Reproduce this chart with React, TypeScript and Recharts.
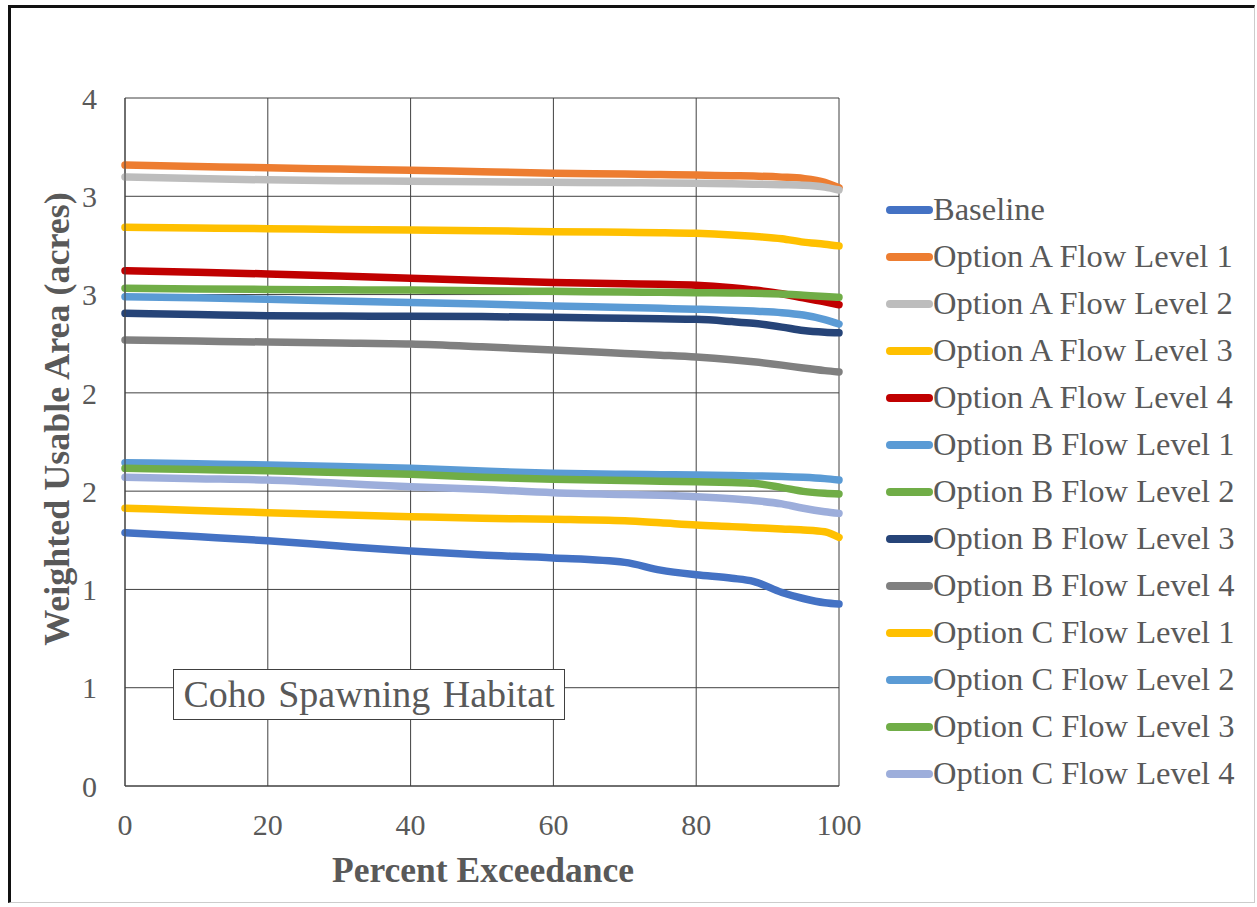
import React from 'react';
import { LineChart, Line, XAxis, YAxis, CartesianGrid, Legend } from 'recharts';

const percentExceedance = [0, 10, 20, 30, 40, 50, 60, 70, 75, 80, 85, 88, 92, 95, 98, 100];

const baseline = [1.473, 1.450, 1.426, 1.395, 1.366, 1.343, 1.326, 1.300, 1.255, 1.228, 1.208, 1.190, 1.125, 1.090, 1.065, 1.058];
const optA1 = [3.610, 3.602, 3.594, 3.587, 3.580, 3.571, 3.563, 3.558, 3.555, 3.552, 3.548, 3.546, 3.540, 3.532, 3.510, 3.478];
const optA2 = [3.541, 3.532, 3.524, 3.519, 3.516, 3.513, 3.510, 3.507, 3.506, 3.504, 3.501, 3.499, 3.496, 3.493, 3.482, 3.465];
const optA3 = [3.248, 3.244, 3.240, 3.236, 3.232, 3.228, 3.223, 3.219, 3.217, 3.213, 3.204, 3.196, 3.182, 3.162, 3.150, 3.140];
const optA4 = [2.996, 2.987, 2.977, 2.965, 2.952, 2.939, 2.927, 2.920, 2.917, 2.912, 2.897, 2.884, 2.862, 2.838, 2.815, 2.798];
const optB1 = [2.845, 2.838, 2.830, 2.820, 2.811, 2.802, 2.791, 2.782, 2.777, 2.772, 2.766, 2.761, 2.752, 2.738, 2.712, 2.686];
const optB2 = [2.894, 2.890, 2.887, 2.885, 2.883, 2.880, 2.876, 2.872, 2.870, 2.868, 2.866, 2.865, 2.860, 2.853, 2.846, 2.841];
const optB3 = [2.748, 2.741, 2.734, 2.732, 2.731, 2.729, 2.725, 2.719, 2.716, 2.713, 2.700, 2.690, 2.668, 2.648, 2.638, 2.635];
const optB4 = [2.593, 2.587, 2.581, 2.576, 2.570, 2.554, 2.535, 2.515, 2.505, 2.494, 2.478, 2.466, 2.447, 2.430, 2.415, 2.407];
const optC1 = [1.615, 1.602, 1.589, 1.577, 1.566, 1.556, 1.551, 1.542, 1.530, 1.517, 1.508, 1.502, 1.494, 1.489, 1.478, 1.446];
const optC2 = [1.880, 1.873, 1.866, 1.857, 1.847, 1.831, 1.818, 1.812, 1.810, 1.808, 1.805, 1.803, 1.800, 1.795, 1.787, 1.779];
const optC3 = [1.847, 1.840, 1.833, 1.823, 1.812, 1.795, 1.783, 1.776, 1.772, 1.769, 1.764, 1.760, 1.735, 1.713, 1.702, 1.698];
const optC4 = [1.795, 1.787, 1.779, 1.760, 1.740, 1.725, 1.705, 1.695, 1.690, 1.682, 1.670, 1.660, 1.640, 1.615, 1.595, 1.585];

const xTicks = [0, 20, 40, 60, 80, 100];
const yTickValues = [0, 4 / 7, 8 / 7, 12 / 7, 16 / 7, 20 / 7, 24 / 7, 4];
const yTickLabels = ['0', '1', '1', '2', '2', '3', '3', '4'];

const seriesNames = [
  'Baseline',
  'Option A Flow Level 1',
  'Option A Flow Level 2',
  'Option A Flow Level 3',
  'Option A Flow Level 4',
  'Option B Flow Level 1',
  'Option B Flow Level 2',
  'Option B Flow Level 3',
  'Option B Flow Level 4',
  'Option C Flow Level 1',
  'Option C Flow Level 2',
  'Option C Flow Level 3',
  'Option C Flow Level 4',
];
const seriesValues = [baseline, optA1, optA2, optA3, optA4, optB1, optB2, optB3, optB4, optC1, optC2, optC3, optC4];
const seriesColors = [
  '#4472C4', '#ED7D31', '#BDBDBD', '#FFC000', '#C00000',
  '#5B9BD5', '#70AD47', '#264478', '#808080',
  '#FFC000', '#5B9BD5', '#70AD47', '#9DAEDB',
];

const keys = seriesNames.map((_, i) => 's' + i);

const data = percentExceedance.map((p, i) => {
  const row: Record<string, number> = { p };
  seriesValues.forEach((arr, k) => {
    row[keys[k]] = arr[i];
  });
  return row;
});

const FONT = '"Liberation Serif", "Times New Roman", serif';
const TEXT_GRAY = '#595959';

const CustomLegend = () => (
  <div style={{ fontFamily: FONT }}>
    {seriesNames.map((name, i) => (
      <div key={name} style={{ display: 'flex', alignItems: 'center', height: 47 }}>
        <svg width={48} height={12} style={{ display: 'block' }}>
          <line x1={5} y1={6} x2={44} y2={6} stroke={seriesColors[i]} strokeWidth={8} strokeLinecap="round" />
        </svg>
        <span style={{ fontSize: 32.5, color: TEXT_GRAY, lineHeight: 1, whiteSpace: 'nowrap' }}>{name}</span>
      </div>
    ))}
  </div>
);

const YTitle = () => (
  <text
    x={69}
    y={419}
    transform="rotate(-90, 69, 419)"
    textAnchor="middle"
    fontFamily={FONT}
    fontWeight="bold"
    fontSize={36}
    fill={TEXT_GRAY}
  >
    Weighted Usable Area (acres)
  </text>
);

const XTitle = () => (
  <text
    x={483}
    y={882}
    textAnchor="middle"
    fontFamily={FONT}
    fontWeight="bold"
    fontSize={35.5}
    fill={TEXT_GRAY}
  >
    Percent Exceedance
  </text>
);

export default function App() {
  return (
    <div style={{ position: 'absolute', left: 0, top: 0, width: 1257, height: 907, background: '#fff' }}>
      <div
        style={{
          position: 'absolute',
          left: 8,
          top: 5,
          width: 1247,
          height: 898,
          boxSizing: 'border-box',
          borderTop: '3px solid #111',
          borderLeft: '3px solid #111',
          borderRight: '1px solid #ccc',
          borderBottom: '1px solid #ccc',
        }}
      />
      <div style={{ position: 'absolute', left: 0, top: 0 }}>
        <LineChart width={1257} height={907} data={data} margin={{ top: 98, right: 418, bottom: 0, left: 0 }}>
          <CartesianGrid stroke="#404040" strokeWidth={1} />
          <XAxis
            dataKey="p"
            type="number"
            domain={[0, 100]}
            ticks={xTicks}
            height={121}
            tickLine={false}
            tickSize={6}
            tickMargin={22}
            axisLine={{ stroke: '#404040' }}
            tick={{ fill: TEXT_GRAY, fontSize: 30, fontFamily: FONT }}
            label={<XTitle />}
          />
          <YAxis
            type="number"
            domain={[0, 4]}
            ticks={yTickValues}
            width={125}
            tickLine={false}
            tickSize={6}
            tickMargin={22}
            axisLine={{ stroke: '#404040' }}
            tick={{ fill: TEXT_GRAY, fontSize: 30, fontFamily: FONT }}
            tickFormatter={(v: number) => {
              const idx = yTickValues.findIndex((t) => Math.abs(t - v) < 1e-6);
              return idx >= 0 ? yTickLabels[idx] : '';
            }}
            label={<YTitle />}
            interval={0}
          />
          <Legend
            layout="horizontal"
            align="center"
            verticalAlign="middle"
            content={<CustomLegend />}
            wrapperStyle={{ position: 'absolute', left: 885, top: 186, width: 370, height: 620 }}
          />
          {keys.map((k, i) => (
            <Line
              key={k}
              dataKey={k}
              name={seriesNames[i]}
              type="monotone"
              stroke={seriesColors[i]}
              strokeWidth={7.5}
              strokeLinecap="round"
              strokeLinejoin="round"
              dot={false}
              activeDot={false}
              isAnimationActive={false}
            />
          ))}
        </LineChart>
      </div>
      <div
        style={{
          position: 'absolute',
          left: 173,
          top: 669,
          width: 392,
          height: 51,
          boxSizing: 'border-box',
          border: '1px solid #404040',
          background: '#fff',
          fontFamily: FONT,
          fontSize: 38,
          color: TEXT_GRAY,
          lineHeight: '49px',
          textAlign: 'center',
          whiteSpace: 'nowrap',
          wordSpacing: 3,
        }}
      >
        Coho Spawning Habitat
      </div>
    </div>
  );
}
